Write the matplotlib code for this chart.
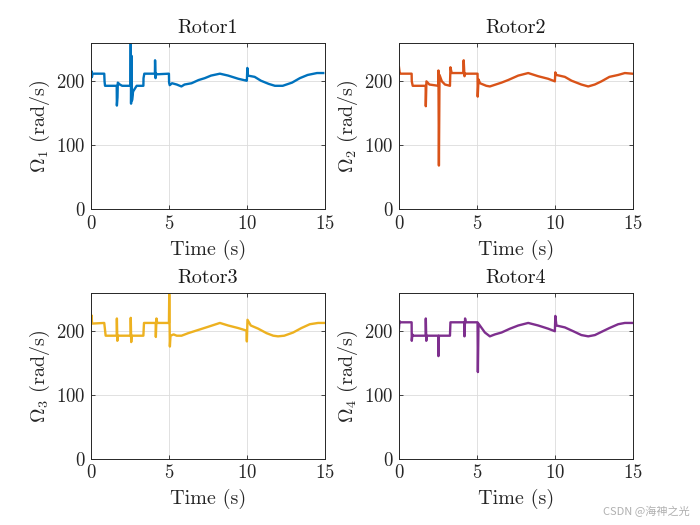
import matplotlib
matplotlib.use("Agg")
import matplotlib.pyplot as plt

plt.rcParams["font.family"] = "serif"
plt.rcParams["font.serif"] = ["cmr10", "DejaVu Serif"]
plt.rcParams["mathtext.fontset"] = "cm"
plt.rcParams["axes.formatter.use_mathtext"] = True

# rotor speed samples (time in s, speed in rad/s)
t1 = [0.0, 0.03, 0.06, 0.1, 0.85, 0.87, 0.9, 1.65, 1.66, 1.7, 1.72, 1.85, 2.0, 2.53, 2.55,
      2.57, 2.6, 2.63, 2.7, 2.8, 2.93, 3.36, 3.37, 3.42, 4.1, 4.11, 4.14, 4.17, 4.2, 5.0,
      5.01, 5.05, 5.2, 5.5, 5.8, 6.0, 6.45, 6.9, 7.3, 7.7, 8.27, 8.8, 9.45, 9.98, 10.0,
      10.03, 10.06, 10.5, 10.9, 11.4, 11.8, 12.3, 12.9, 13.4, 13.9, 14.5, 14.9]
w1 = [205, 216, 207, 212, 212, 200, 193, 193, 162, 175, 198, 195, 193, 193, 262,
      165, 240, 170, 184, 188, 193, 193, 205, 212, 212, 233, 205, 213, 211, 212,
      198, 194, 197, 195, 192, 195, 197, 202, 205, 209, 212, 209, 204, 201, 201,
      221, 209, 207, 201, 196, 193, 193, 198, 205, 210, 213, 213]

t2 = [0.0, 0.05, 0.1, 0.81, 0.82, 0.88, 1.71, 1.72, 1.76, 1.95, 2.52, 2.53, 2.56, 2.6,
      2.75, 2.95, 3.27, 3.3, 3.38, 4.12, 4.15, 4.2, 4.25, 5.04, 5.05, 5.1, 5.2, 5.6,
      5.83, 6.58, 7.0, 7.65, 8.29, 8.93, 9.57, 10.0, 10.03, 10.1, 10.64, 11.07, 11.7,
      12.14, 12.56, 12.99, 13.5, 14.06, 14.49, 14.96]
w2 = [222, 212, 212, 212, 200, 193, 193, 161, 200, 195, 193, 217, 68, 210,
      200, 195, 193, 222, 213, 213, 233, 208, 212, 212, 176, 203, 197, 193,
      192, 198, 202, 209, 213, 208, 204, 200, 214, 210, 207, 201, 195,
      192, 195, 200, 207, 210, 213, 212]

t3 = [0.0, 0.03, 0.07, 0.85, 0.94, 1.65, 1.66, 1.69, 1.72, 2.54, 2.55, 2.58, 2.61, 3.36,
      3.4, 4.15, 4.16, 4.2, 4.25, 5.0, 5.02, 5.06, 5.1, 5.3, 5.5, 5.81, 6.24, 6.88, 7.52,
      8.27, 8.8, 9.44, 9.98, 10.0, 10.04, 10.25, 10.73, 11.26, 11.69, 12.0, 12.4,
      12.97, 13.5, 14.04, 14.57, 14.96]
w3 = [215, 225, 212, 213, 193, 193, 220, 185, 193, 193, 221, 183, 193, 193,
      213, 213, 191, 220, 213, 213, 258, 176, 193, 195, 193, 193, 197, 202, 207,
      213, 209, 205, 201, 184, 218, 209, 204, 197, 193, 192, 193,
      198, 205, 211, 213, 213]

t4 = [0.0, 0.03, 0.1, 0.81, 0.82, 0.86, 0.9, 1.71, 1.72, 1.75, 1.78, 2.52, 2.53, 2.56,
      3.27, 3.3, 4.19, 4.2, 4.24, 4.28, 5.04, 5.06, 5.1, 5.51, 5.83, 6.15, 6.58, 7.12,
      7.65, 8.29, 8.93, 9.57, 10.0, 10.03, 10.1, 10.64, 11.18, 11.7, 12.14, 12.57,
      12.99, 13.5, 14.06, 14.49, 14.96]
w4 = [205, 216, 214, 214, 185, 195, 193, 193, 220, 185, 193, 193, 161, 193,
      193, 214, 214, 192, 220, 214, 214, 136, 212, 198, 192, 195, 198, 204,
      209, 213, 209, 204, 200, 224, 209, 206, 200, 194, 192, 194,
      199, 205, 211, 213, 213]

rotors = [
    ("Rotor1", r"$\Omega_1$ (rad/s)", t1, w1, "#0072BD"),
    ("Rotor2", r"$\Omega_2$ (rad/s)", t2, w2, "#D95319"),
    ("Rotor3", r"$\Omega_3$ (rad/s)", t3, w3, "#EDB120"),
    ("Rotor4", r"$\Omega_4$ (rad/s)", t4, w4, "#7E2F8E"),
]

fig = plt.figure(figsize=(7, 5.25), dpi=100)
positions = [
    [0.130, 0.602, 0.334, 0.316],
    [0.570, 0.602, 0.334, 0.316],
    [0.130, 0.126, 0.334, 0.316],
    [0.570, 0.126, 0.334, 0.316],
]

for pos, (title, ylabel, t, w, color) in zip(positions, rotors):
    ax = fig.add_axes(pos)
    ax.plot(t, w, color=color, lw=1.7)
    ax.set_xlim(0, 15)
    ax.set_ylim(0, 260)
    ax.set_xticks([0, 5, 10, 15])
    ax.set_yticks([0, 100, 200])
    ax.grid(True, color="#dcdcdc", lw=0.6)
    ax.set_axisbelow(True)
    ax.tick_params(direction="in", top=True, right=True, length=3, labelsize=13.5,
                   colors="#262626", width=0.6, pad=4)
    for s in ax.spines.values():
        s.set_color("#262626")
        s.set_linewidth(0.7)
    ax.set_title(title, fontsize=14.5, color="#1a1a1a", pad=7)
    ax.set_xlabel("Time (s)", fontsize=14.5, color="#262626", labelpad=5)
    ax.set_ylabel(ylabel, fontsize=14.5, color="#262626", labelpad=3)

fig.text(0.985, 0.015, "CSDN @海神之光", ha="right", va="bottom", fontsize=8,
         color="#b0b0b0", family=["Noto Sans CJK SC", "DejaVu Sans"])

fig.savefig("out.png", dpi=100, facecolor="white")
